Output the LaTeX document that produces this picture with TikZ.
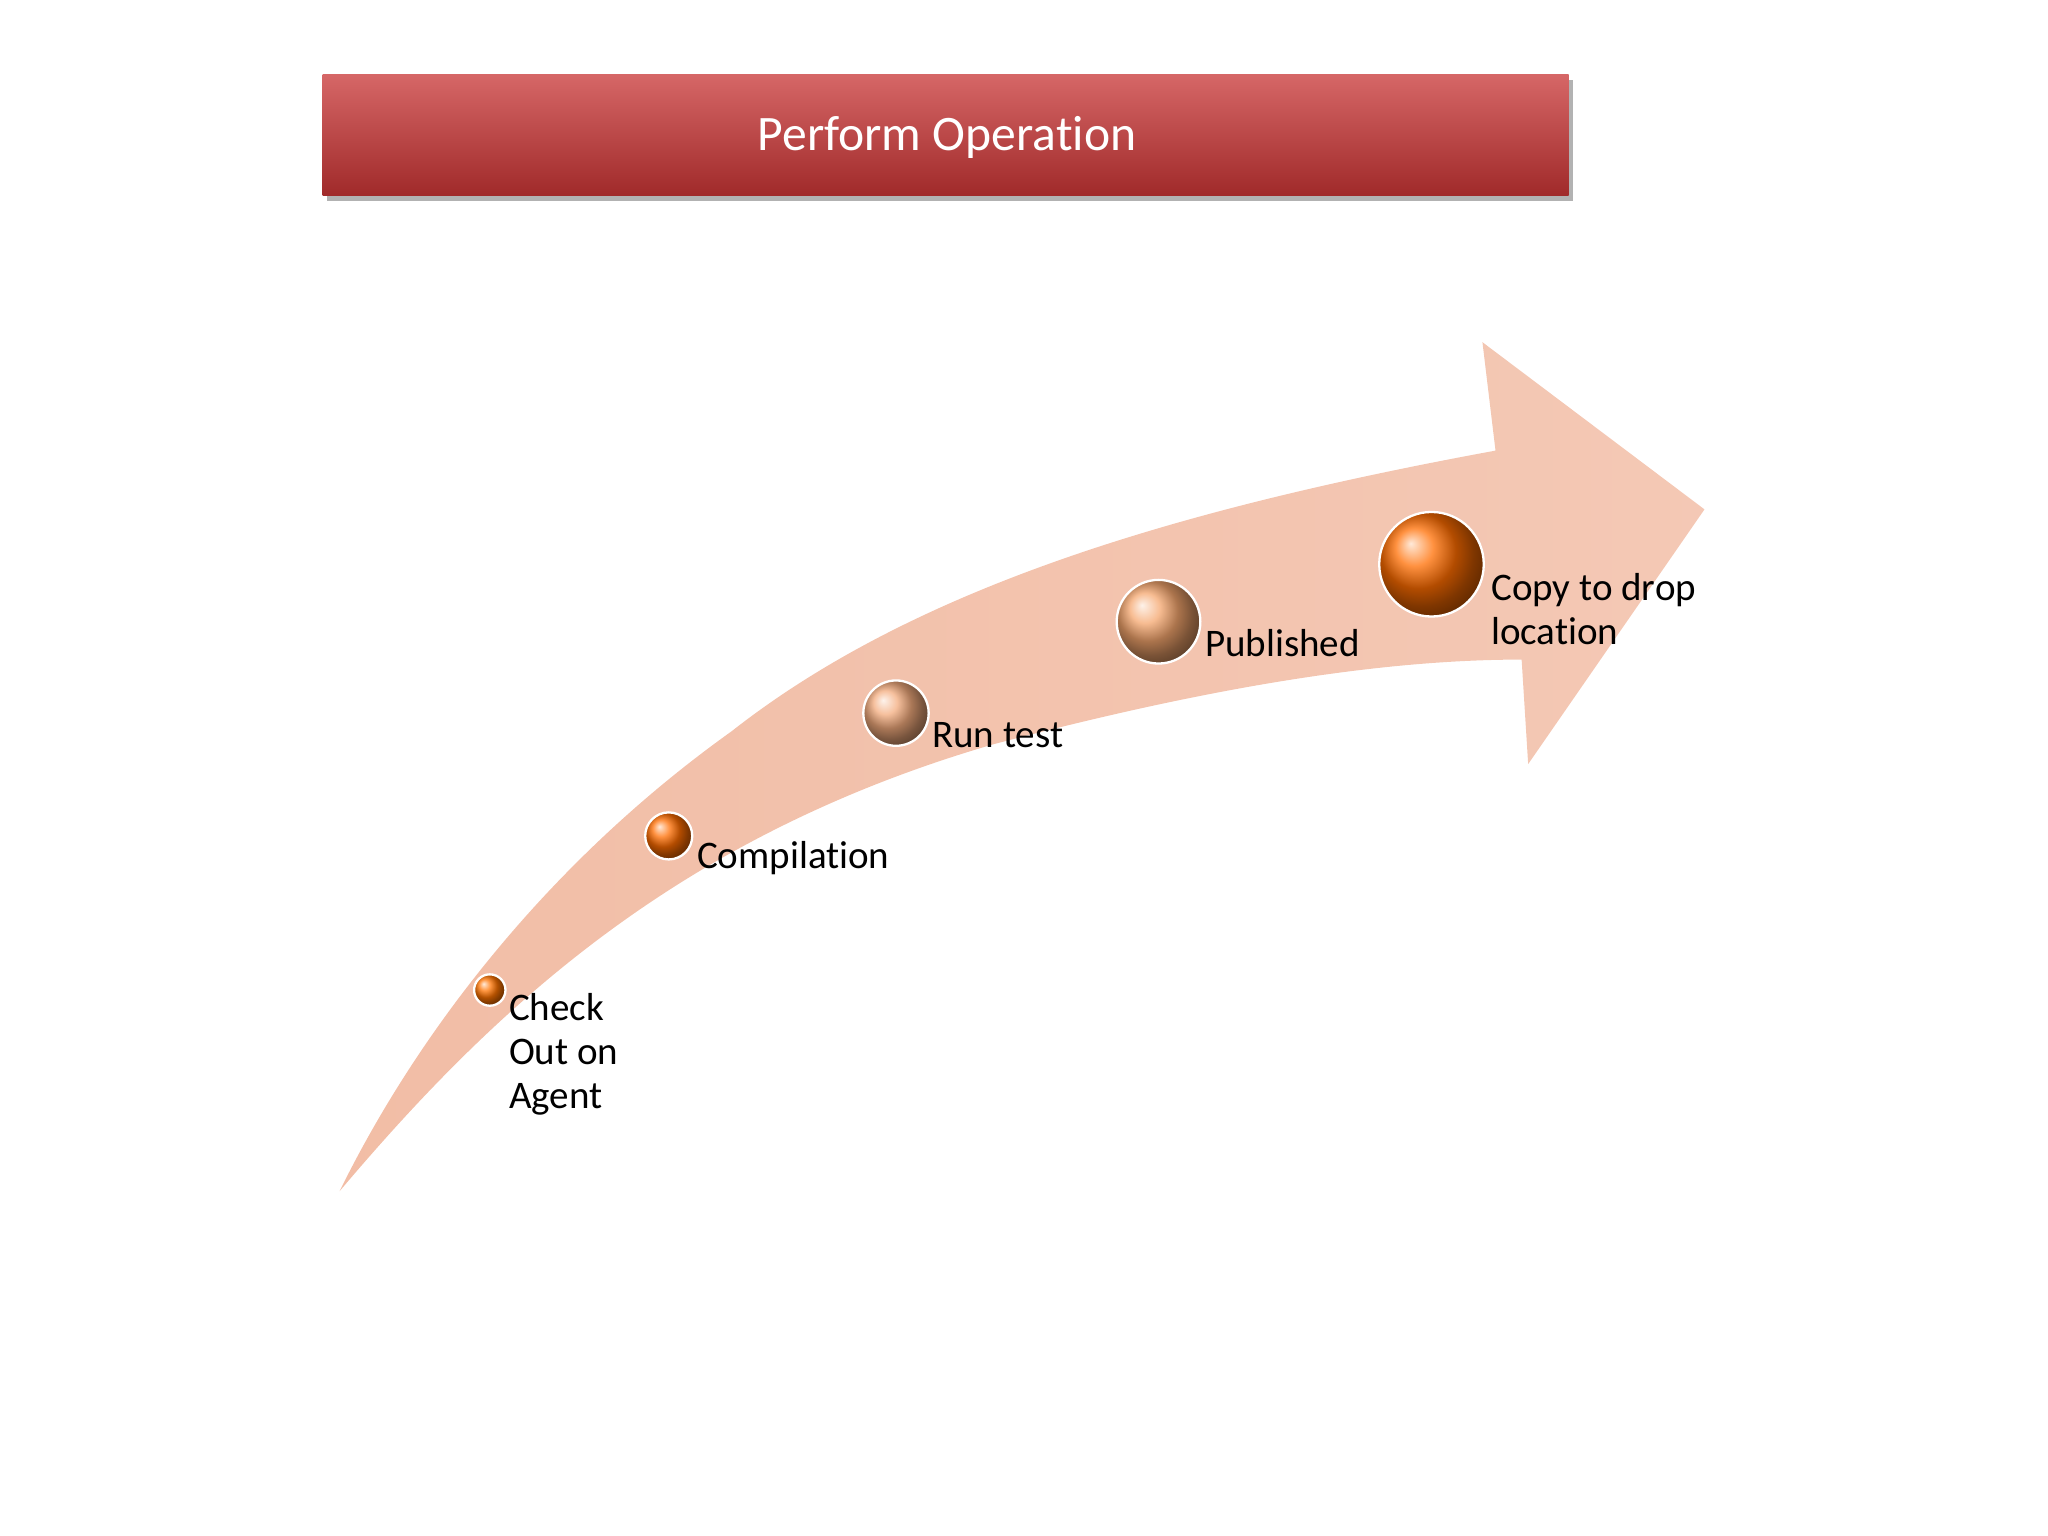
\documentclass[tikz,border=0pt]{standalone}
\usepackage{fontspec}
\setmainfont[Ligatures=NoCommon]{Carlito}
\begin{document}
\begin{tikzpicture}[x=0.01cm,y=-0.01cm,
  lbl/.style={anchor=west,font=\fontsize{8.5pt}{9.6pt}\selectfont,align=left,inner sep=0pt},
  dot/.style={circle,inner sep=0pt,draw=white,line width=0.5pt}]
\useasboundingbox (0,0) rectangle (1568,1176);
\definecolor{peach}{RGB}{240,182,156}
\definecolor{titlered}{RGB}{200,52,52}
% title
\fill[black!30] (250,61) rectangle (1204,154);
\shade[top color=titlered!75!white,bottom color=titlered!80!black] (247,57) rectangle (1201,150);
\node[text=white,font=\fontsize{10.8pt}{12pt}\selectfont] (title) at (725,105) {Perform Operation};
% arrow
\shade[left color=peach!90!white,right color=peach!75!white,draw=none]
  (260,912) .. controls (380,770) and (520,640) .. (760,570)
  .. controls (930,525) and (1060,505) .. (1165,505)
  -- (1170,585) -- (1305,390) -- (1135,262) -- (1145,345)
  .. controls (900,390) and (700,450) .. (560,560)
  .. controls (420,660) and (320,790) .. (260,912) -- cycle;
% balls
\node[dot,minimum size=0.24cm,ball color=orange!90!red] (b1) at (375,758) {};
\node[dot,minimum size=0.36cm,ball color=orange!85!red] (b2) at (512,640) {};
\node[dot,minimum size=0.50cm,ball color=peach!80!orange] (b3) at (686,546) {};
\node[dot,minimum size=0.64cm,ball color=peach!70!orange] (b4) at (887,476) {};
\node[dot,minimum size=0.80cm,ball color=orange!85!red] (b5) at (1096,432) {};
% labels
\node[lbl,anchor=north west] (l1) at (389,760) {Check\\Out on\\Agent};
\node[lbl] (l2) at (533,657) {Compilation};
\node[lbl] (l3) at (713,563) {Run test};
\node[lbl] (l4) at (922,492) {Published};
\node[lbl] (l5) at (1141,466) {Copy to drop\\location};
\end{tikzpicture}
\end{document}
